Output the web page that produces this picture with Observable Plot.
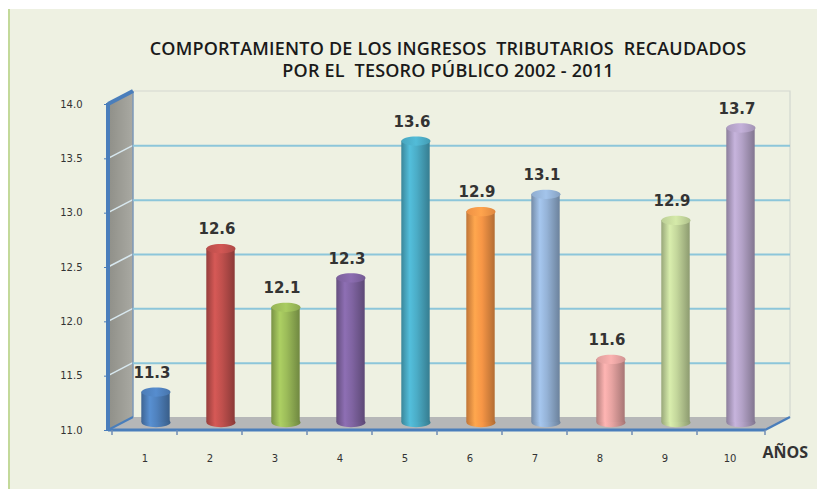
<!DOCTYPE html>
<html><head><meta charset="utf-8">
<script src="https://cdn.jsdelivr.net/npm/d3@7"></script>
<script src="https://cdn.jsdelivr.net/npm/@observablehq/plot@0.6"></script>
<style>
body{margin:0;background:#fff;width:817px;height:489px;overflow:hidden;position:relative;font-family:"DejaVu Sans",sans-serif}
#bg{position:absolute;left:8px;top:9px;right:0;bottom:0;background:#eef1e2;border-left:2px solid #c3d99a}
#title{position:absolute;left:48px;width:800px;top:37px;text-align:center;font:600 18px "Open Sans",sans-serif;letter-spacing:0.2px;color:#1a1a1a;line-height:22px;white-space:pre}
#chart{position:absolute;left:0;top:80px}
#chart text{fill:#333}
</style></head><body>
<div id="bg"></div>
<div id="title">COMPORTAMIENTO DE LOS INGRESOS  TRIBUTARIOS  RECAUDADOS
POR EL  TESORO PÚBLICO 2002 - 2011</div>
<div id="chart"></div>
<script>
// ---- data ----
const years = ["1","2","3","4","5","6","7","8","9","10"];
const values = [11.28, 12.60, 12.06, 12.33, 13.59, 12.94, 13.10, 11.58, 12.86, 13.71];
const labels = values.map(v => v.toFixed(1));
const colors = ["#4f81bd","#c0504d","#9bbb59","#8064a2","#4bacc6","#f79646","#95b3d7","#e6a3a1","#c3d69b","#b3a2c7"];
const yTicks = [11, 11.5, 12, 12.5, 13, 13.5, 14];
const xTitle = "AÑOS";

// ---- 3D look (pixel offsets) ----
const DX = 25, DY = -13;   // back wall offset
const BX = 11, BY = -8;    // bars at mid depth

const data = years.map((k, i) => ({k, v: values[i], label: labels[i], i}));

const ellipse = {
  draw(ctx, size) {
    const rx = Math.sqrt(size / Math.PI), ry = rx * 0.32, c = 0.5523;
    ctx.moveTo(rx, 0);
    ctx.bezierCurveTo(rx, ry * c, rx * c, ry, 0, ry);
    ctx.bezierCurveTo(-rx * c, ry, -rx, ry * c, -rx, 0);
    ctx.bezierCurveTo(-rx, -ry * c, -rx * c, -ry, 0, -ry);
    ctx.bezierCurveTo(rx * c, -ry, rx, -ry * c, rx, 0);
    ctx.closePath();
  }
};

const plot = Plot.plot({
  width: 817, height: 400,
  marginLeft: 108, marginRight: 52, marginTop: 24, marginBottom: 50,
  style: {background: "transparent", overflow: "visible", fontFamily: "DejaVu Sans", fontSize: "10px", color: "#333"},
  x: {type: "band", domain: years, padding: 0, tickSize: 0, tickPadding: 24, label: null},
  y: {domain: [11, 14], ticks: yTicks, tickFormat: d => d.toFixed(1), tickSize: 4, tickPadding: 22, label: null},
  color: {type: "identity"},
  marks: [
    Plot.ruleY(yTicks.filter(t => t > 11 && t < 14), {y: d => d, dx: DX, dy: DY, stroke: "#8cc6da", strokeWidth: 2}),
    Plot.dot(data, {x: "k", y: () => 11, symbol: ellipse, r: 14.5, fill: d => `url(#cyl${d.i})`, dx: BX, dy: BY}),
    Plot.barY(data, {x: "k", y1: 11, y2: "v", fill: d => `url(#cyl${d.i})`, insetLeft: 18.3, insetRight: 18.3, dx: BX, dy: BY}),
    Plot.dot(data, {x: "k", y: "v", symbol: ellipse, r: 14.5, fill: d => `url(#top${d.i})`, dx: BX, dy: BY}),
    Plot.text(data, {x: "k", y: "v", text: "label", dx: 7, dy: BY - 19, fontSize: 15, fontWeight: "bold", fill: "#1a1a1a"}),
    Plot.text([xTitle], {frameAnchor: "bottom-right", text: d => d, textAnchor: "start", dx: -3, dy: 27, fontSize: 16, fontWeight: "bold", fontFamily: "Open Sans", fill: "#111"})
  ]
});
document.getElementById("chart").appendChild(plot);

// ---- decorations derived from Plot's scales ----
const xs = plot.scale("x"), ys = plot.scale("y");
const x0 = xs.range[0], x1 = xs.range[1];
const yb = ys.apply(yTicks[0]), yt = ys.apply(yTicks[yTicks.length - 1]);
const svg = d3.select(plot);

const defs = svg.insert("defs", ":first-child");
colors.forEach((c, i) => {
  const base = d3.color(c);
  const g = defs.append("linearGradient").attr("id", `cyl${i}`).attr("x1", 0).attr("x2", 1).attr("y1", 0).attr("y2", 0);
  [[0, base.darker(0.7)], [0.3, base.brighter(0.3)], [0.55, base], [1, base.darker(0.9)]]
    .forEach(([o, col]) => g.append("stop").attr("offset", o).attr("stop-color", col.formatHex()));
  const t = defs.append("linearGradient").attr("id", `top${i}`).attr("x1", 0).attr("x2", 1).attr("y1", 0).attr("y2", 0);
  [[0, base.darker(0.1)], [0.5, base.brighter(0.25)], [1, base.darker(0.3)]]
    .forEach(([o, col]) => t.append("stop").attr("offset", o).attr("stop-color", col.formatHex()));
});
const wg = defs.append("linearGradient").attr("id", "wall").attr("x1", 0).attr("x2", 1);
wg.append("stop").attr("offset", 0).attr("stop-color", "#8f8f88");
wg.append("stop").attr("offset", 1).attr("stop-color", "#a9a9a2");

const back = svg.insert("g", "g");
const pts = a => a.map(p => p.join(",")).join(" ");
// floor
back.append("polygon").attr("points", pts([[x0, yb], [x1, yb], [x1 + DX, yb + DY], [x0 + DX, yb + DY]])).attr("fill", "#b6b7b8");
// side wall
back.append("polygon").attr("points", pts([[x0, yb], [x0, yt], [x0 + DX, yt + DY], [x0 + DX, yb + DY]])).attr("fill", "url(#wall)");
// back wall top & right edge
back.append("polyline").attr("points", pts([[x0 + DX, yt + DY], [x1 + DX, yt + DY], [x1 + DX, yb + DY]]))
  .attr("fill", "none").attr("stroke", "#d3d8d0").attr("stroke-width", 1.2);
// side wall diagonals
yTicks.slice(1, -1).forEach(t => {
  const y = ys.apply(t);
  back.append("line").attr("x1", x0).attr("y1", y).attr("x2", x0 + DX).attr("y2", y + DY).attr("stroke", "#d8e8ef").attr("stroke-width", 1.5);
});
// blue edges
const blue = "#4a7ebb";
back.append("line").attr("x1", x0 + DX).attr("y1", yt + DY).attr("x2", x0 + DX).attr("y2", yb + DY).attr("stroke", "#7d98b8").attr("stroke-width", 1.5);
back.append("line").attr("x1", x0).attr("y1", yt).attr("x2", x0 + DX).attr("y2", yt + DY).attr("stroke", blue).attr("stroke-width", 4);
back.append("line").attr("x1", x0).attr("y1", yb).attr("x2", x0 + DX).attr("y2", yb + DY).attr("stroke", blue).attr("stroke-width", 2);
back.append("line").attr("x1", x0).attr("y1", yt - 1).attr("x2", x0).attr("y2", yb + 1).attr("stroke", blue).attr("stroke-width", 4);
back.append("line").attr("x1", x0).attr("y1", yb).attr("x2", x1).attr("y2", yb).attr("stroke", blue).attr("stroke-width", 3);
back.append("line").attr("x1", x1).attr("y1", yb).attr("x2", x1 + DX).attr("y2", yb + DY).attr("stroke", blue).attr("stroke-width", 2.5);
// category boundary ticks
years.map(k => xs.apply(k)).concat([x1]).forEach(x => {
  back.append("line").attr("x1", x).attr("y1", yb).attr("x2", x).attr("y2", yb + 5).attr("stroke", "#6f8db5").attr("stroke-width", 1.5);
});
svg.selectAll("g[aria-label='y-axis'] line, g[aria-label='y-axis tick'] path").attr("stroke", blue);
</script>
</body></html>
